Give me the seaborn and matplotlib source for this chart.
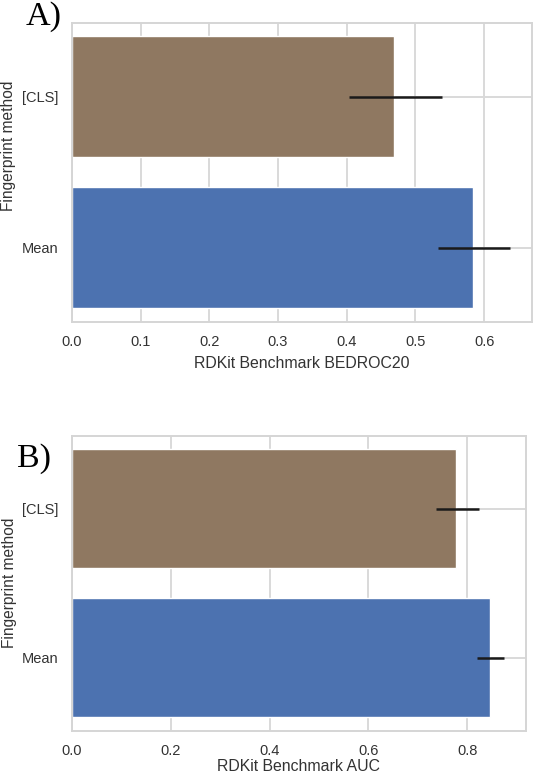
import matplotlib
matplotlib.use("Agg")
import matplotlib.pyplot as plt
import seaborn as sns
import pandas as pd

# ---- data ----
methods = ["[CLS]", "Mean"]
bar_colors = ["#8f7861", "#4c72b0"]

bedroc_values = [0.469, 0.584]
bedroc_lower = [0.404, 0.533]
bedroc_upper = [0.538, 0.638]

auc_values = [0.777, 0.846]
auc_lower = [0.737, 0.820]
auc_upper = [0.823, 0.874]

top_ticks = [0.0, 0.1, 0.2, 0.3, 0.4, 0.5, 0.6]
bottom_ticks = [0.0, 0.2, 0.4, 0.6, 0.8]

sns.set_theme(style="whitegrid")
plt.rcParams["font.family"] = ["Liberation Sans", "DejaVu Sans"]

W, H = 534, 776
fig = plt.figure(figsize=(W / 100, H / 100), dpi=100)

def px_axes(left, top, right, bottom):
    return fig.add_axes([left / W, 1 - bottom / H, (right - left) / W, (bottom - top) / H])

ax1 = px_axes(72, 22.7, 531.5, 321.5)
ax2 = px_axes(72, 436, 525.5, 730.5)

def draw(ax, values, lower, upper, ticks, xmax, xlabel, ylab_y, labelpad):
    df = pd.DataFrame({"method": methods, "score": values})
    sns.barplot(data=df, x="score", y="method", hue="method", palette=bar_colors,
                saturation=1, errorbar=None, legend=False, ax=ax, width=0.8)
    xerr = [[v - l for v, l in zip(values, lower)], [u - v for v, u in zip(values, upper)]]
    ax.errorbar(values, methods, xerr=xerr, fmt="none", ecolor="#1a1a1a",
                elinewidth=1.8, capsize=0, zorder=5)
    ax.set_xlim(0, xmax)
    ax.set_xticks(ticks)
    ax.set_xticklabels([f"{t:.1f}" for t in ticks])
    ax.set_xlabel(xlabel, fontsize=11.4, color="#333333", labelpad=labelpad)
    ax.set_ylabel("Fingerprint method", fontsize=11.2, color="#333333")
    ax.yaxis.set_label_coords(-0.122, ylab_y)
    ax.tick_params(axis="both", labelsize=10.5, colors="#333333", pad=10, length=0)
    for s in ax.spines.values():
        s.set_color("#d5d5d5")
        s.set_linewidth(1.4)
    ax.grid(True, color="#d9d9d9", linewidth=1.4)
    ax.set_axisbelow(True)

draw(ax1, bedroc_values, bedroc_lower, bedroc_upper, top_ticks, 0.669,
     "RDKit Benchmark BEDROC20", 0.587, 5)
draw(ax2, auc_values, auc_lower, auc_upper, bottom_ticks, 0.918,
     "RDKit Benchmark AUC", 0.5, 0.5)

fig.text(26 / W, 1 - 25 / H, "A)", fontsize=24.5, family="Liberation Serif",
         color="black", ha="left", va="baseline")
fig.text(17 / W, 1 - 467 / H, "B)", fontsize=24.5, family="Liberation Serif",
         color="black", ha="left", va="baseline")

fig.savefig("out.png", dpi=100)
